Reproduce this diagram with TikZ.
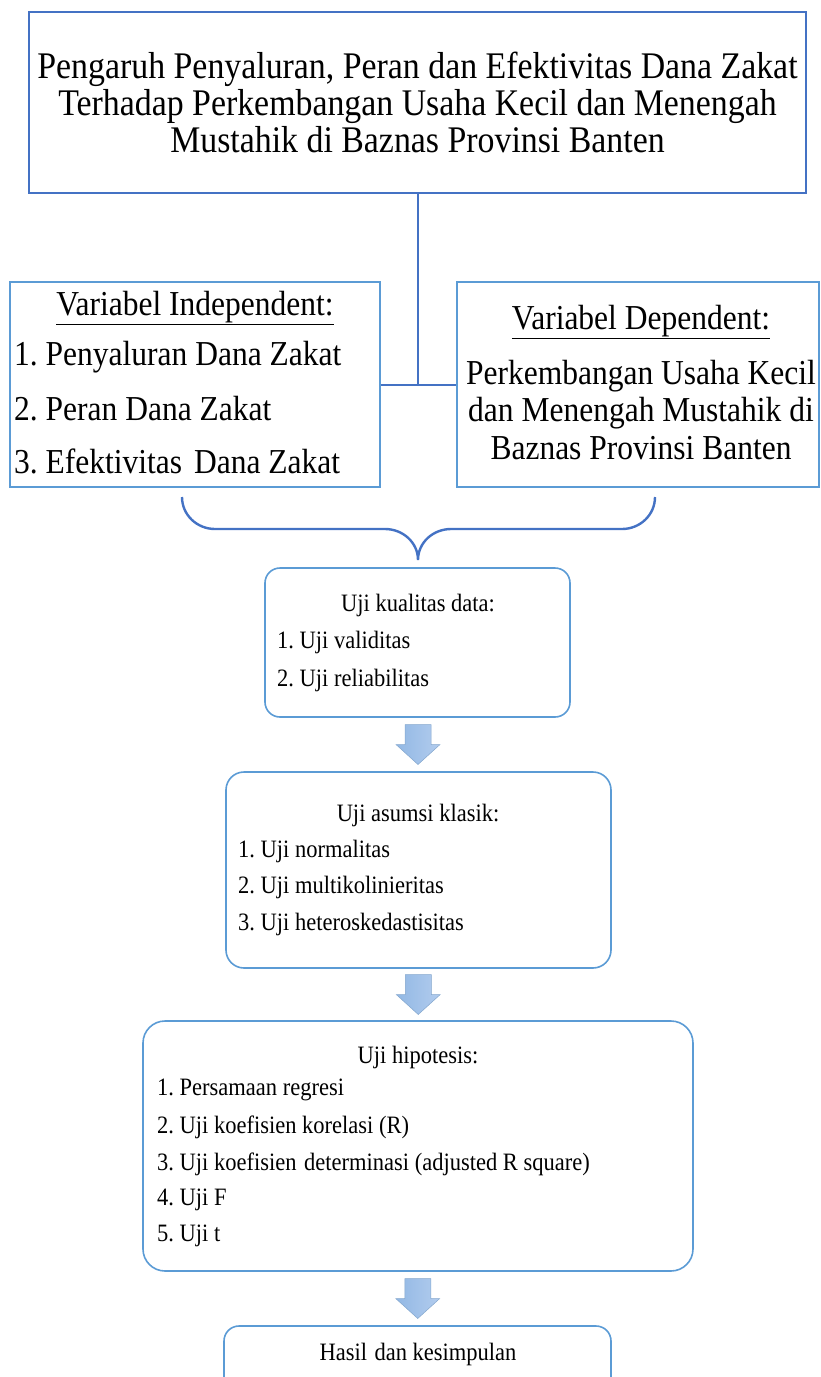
\documentclass[tikz,border=0pt]{standalone}
\usepackage{fontspec}
\setmainfont[FakeStretch=0.9]{Liberation Serif}
\usepackage{tikz}
\usepackage{xcolor}
\usetikzlibrary{positioning,calc,shapes}
\definecolor{linkblue}{RGB}{68,114,196}
\definecolor{boxblue}{RGB}{91,155,213}
\definecolor{arrowlight}{RGB}{178,204,238}
\definecolor{arrowdark}{RGB}{146,184,228}
\newcommand{\bigtext}{\fontsize{37.6}{37}\selectfont}
\newcommand{\vartext}{\fontsize{35}{37.5}\selectfont}
\newcommand{\steptext}{\fontsize{25}{26}\selectfont}
\frenchspacing

\begin{document}
\begin{tikzpicture}[
    x=1pt, y=-1pt,
    titlebox/.style={rectangle, draw=linkblue, line width=1.8pt, inner sep=0pt, align=center, font=\bigtext},
    varbox/.style={rectangle, draw=boxblue, line width=1.6pt, inner sep=0pt},
    stepbox/.style={rectangle, draw=boxblue, line width=1.6pt, inner sep=0pt},
    head/.style={inner sep=0pt, font=\steptext},
    item/.style={anchor=west, inner sep=0pt, font=\steptext},
    link/.style={draw=linkblue, line width=2pt},
    blockarrow/.pic={
        \draw[left color=arrowdark, right color=arrowlight, draw=arrowdark!90!black, line width=0.5pt]
            (-13,-20) -- (13,-20) -- (13,0) -- (22,0) -- (0,20) -- (-22,0) -- (-13,0) -- cycle;
    }
]
\useasboundingbox (0,0) rectangle (820,1377);

% judul
\node[titlebox, minimum width=777pt, minimum height=181pt] (title) at (417.5,102.5)
    {Pengaruh Penyaluran, Peran dan Efektivitas Dana Zakat\\
     Terhadap Perkembangan Usaha Kecil dan Menengah\\
     Mustahik di Baznas Provinsi Banten};

% variabel
\node[varbox, minimum width=370pt, minimum height=205pt] (indep) at (195,384.5) {};
\node[inner sep=0pt, font=\vartext] (indephead) at (195,308) {\underline{Variabel Independent:}};
\node[anchor=west, inner sep=0pt, font=\vartext] (x1) at (14,357) {1. Penyaluran Dana Zakat};
\node[anchor=west, inner sep=0pt, font=\vartext] (x2) at (14,409) {2. Peran Dana Zakat};
\node[anchor=west, inner sep=0pt, font=\vartext] (x3) at (14,461) {3. Efektivitas\hspace{4pt} Dana Zakat};

\node[varbox, minimum width=362pt, minimum height=205pt] (dep) at (638,384.5) {};
\node[inner sep=0pt, font=\vartext] (dephead) at (641,322) {\underline{Variabel Dependent:}};
\node[inner sep=0pt, font=\vartext, align=center] (y) at (641,410)
    {Perkembangan Usaha Kecil\\dan Menengah Mustahik di\\Baznas Provinsi Banten};

\draw[link] (indep.east) -- (dep.west);
\draw[link] (title.south) -- (title.south |- indep.east);

% kurung kurawal
\draw[link, line width=2.4pt]
    (182,497) to[out=-90,in=180] (215,529) -- (385,529) to[out=0,in=90] (418,560)
    to[out=90,in=180] (451,529) -- (622,529) to[out=0,in=-90] (655,497);

% tahapan uji
\node[stepbox, rounded corners=15pt, minimum width=305pt, minimum height=149pt] (s1) at (417.5,642.5) {};
\node[head] (s1head) at (418,605) {Uji kualitas data:};
\node[item] (s1a) at (277,642) {1. Uji validitas};
\node[item] (s1b) at (277,680) {2. Uji reliabilitas};

\node[stepbox, rounded corners=18pt, minimum width=385pt, minimum height=196pt] (s2) at (418.5,870) {};
\node[head] (s2head) at (418,815) {Uji asumsi klasik:};
\node[item] (s2a) at (238,851) {1. Uji normalitas};
\node[item] (s2b) at (238,887) {2. Uji multikolinieritas};
\node[item] (s2c) at (238,924) {3. Uji heteroskedastisitas};

\node[stepbox, rounded corners=22pt, minimum width=550pt, minimum height=250pt] (s3) at (418,1146) {};
\node[head] (s3head) at (418,1057) {Uji hipotesis:};
\node[item] (s3a) at (157,1090) {1. Persamaan regresi};
\node[item] (s3b) at (157,1127) {2. Uji koefisien korelasi (R)};
\node[item] (s3c) at (157,1164) {3. Uji koefisien\hspace{2pt} determinasi (adjusted R square)};
\node[item] (s3d) at (157,1200) {4. Uji F};
\node[item] (s3e) at (157,1236) {5. Uji t};

\node[stepbox, rounded corners=15pt, minimum width=387pt, minimum height=150pt] (s4) at (417.5,1401) {};
\node[head] (s4head) at (418,1354) {Hasil\hspace{2pt} dan kesimpulan};

% panah
\pic at ($(s1.south)!0.5!(s2.north)$) {blockarrow};
\pic at ($(s2.south)!0.5!(s3.north)$) {blockarrow};
\pic at ($(s3.south)!0.5!(s4.north)$) {blockarrow};

\end{tikzpicture}
\end{document}
